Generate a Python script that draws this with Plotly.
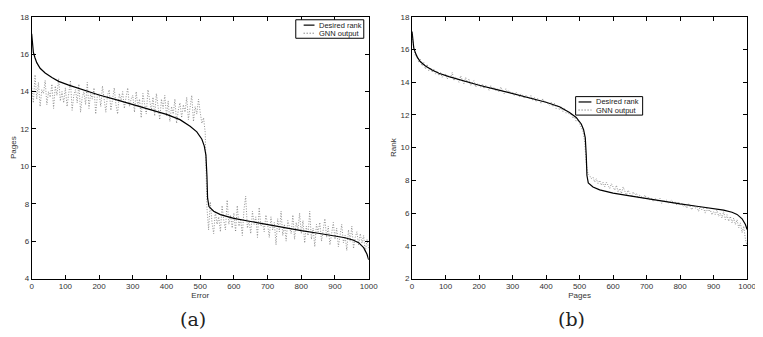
import plotly.graph_objects as go

# ---------------- data ----------------
desired_x = [0, 2, 5, 10, 15, 25, 40, 60, 80, 110, 150, 200, 250, 300, 350, 400, 440, 470, 490, 505,
             512, 517, 520, 522, 526, 540, 560, 600, 650, 700, 750, 800, 850, 900, 930, 955, 970, 985, 995, 1000]
desired_y = [17.1, 16.6, 16.1, 15.8, 15.55, 15.25, 15.0, 14.75, 14.55, 14.35, 14.1, 13.82, 13.57, 13.32, 13.06,
             12.78, 12.5, 12.15, 11.85, 11.45, 11.1, 10.6, 9.5, 8.3, 7.85, 7.6, 7.42, 7.22, 7.05, 6.88, 6.72,
             6.56, 6.42, 6.28, 6.18, 6.05, 5.92, 5.65, 5.3, 5.0]

gnn_x = list(range(0, 1001, 5))

gnn_a = [
    14.2, 13.4, 14.9, 13.6, 14.5, 13.2, 14.1, 13.9, 14.6, 13.3, 14.0, 13.7, 14.4, 13.1, 14.3, 13.8, 14.7, 13.5, 14.0, 13.4,
    14.2, 13.2, 13.9, 14.6, 13.0, 13.8, 14.1, 13.4, 14.4, 12.9, 13.7, 14.0, 13.3, 14.5, 13.1, 13.9, 13.6, 14.2, 12.8, 13.8,
    13.9, 13.2, 14.3, 13.4, 12.9, 13.8, 14.1, 13.0, 13.6, 14.2, 13.3, 12.8, 13.9, 13.5, 14.0, 13.1, 13.7, 14.2, 13.2, 13.6,
    13.8, 12.9, 14.0, 13.2, 13.6, 12.6, 13.9, 13.3, 12.8, 14.1, 13.4, 13.0, 13.7, 12.7, 13.9, 13.2, 12.5, 13.6, 13.1, 13.8,
    12.7, 13.5, 12.4, 13.2, 12.8, 13.6, 12.3, 13.0, 13.4, 12.6, 13.3, 12.9, 13.7, 12.5, 13.1, 13.8, 12.4, 13.2, 12.8, 13.6,
    12.9, 12.3, 12.6, 11.8,
    7.8, 6.6, 8.1, 7.0, 6.4, 7.6, 6.9, 7.3, 6.5, 7.9, 7.1, 6.6, 8.2, 6.9, 7.4, 6.7,
    7.5, 6.5, 7.9, 6.8, 7.2, 6.3, 7.7, 8.4, 6.7, 7.1, 6.4, 7.6, 6.9, 7.3, 6.2, 7.8, 6.8, 7.0, 6.5, 7.4,
    6.9, 6.2, 7.3, 6.6, 7.0, 5.8, 7.2, 6.5, 7.6, 6.3, 6.9, 6.0, 7.1, 6.7, 6.4, 7.4, 6.1, 7.0, 6.6, 7.5,
    6.4, 7.1, 5.9, 6.8, 6.3, 7.6, 6.1, 6.7, 5.7, 6.9, 6.5, 7.0, 6.0, 6.6, 7.2, 6.2, 6.8, 5.8, 6.5, 7.0,
    6.1, 6.7, 5.7, 6.4, 6.9, 5.9, 6.3, 5.5, 6.6, 6.0, 6.8, 5.6, 6.2, 6.5, 5.8, 6.4, 5.9, 6.3, 5.4, 6.1,
    5.6,
]

gnn_b = [
    16.8, 16.3, 15.6, 15.7, 15.2, 15.4, 15.0, 15.2, 14.8, 15.1, 14.7, 14.9, 14.6, 14.8, 14.5, 14.7, 14.4, 14.6, 14.3, 14.5,
    14.5, 14.2, 14.4, 14.3, 14.6, 14.1, 14.3, 14.2, 14.0, 14.4, 14.1, 13.9, 14.3, 14.0, 14.2, 13.8, 14.0, 14.1, 13.7, 13.9,
    13.9, 13.7, 13.9, 13.6, 13.8, 13.7, 13.5, 13.8, 13.6, 13.7, 13.5, 13.6, 13.4, 13.7, 13.5, 13.3, 13.6, 13.4, 13.5, 13.3,
    13.4, 13.2, 13.4, 13.3, 13.1, 13.3, 13.2, 13.0, 13.2, 13.1, 13.0, 13.2, 12.9, 13.1, 12.8, 13.0, 12.9, 12.7, 13.0, 12.8,
    12.8, 12.7, 12.6, 12.8, 12.5, 12.7, 12.4, 12.6, 12.3, 12.5, 12.2, 12.4, 12.1, 12.2, 12.0, 12.1, 11.8, 11.9, 11.6, 11.7,
    11.5, 11.2, 11.0, 10.4,
    9.0, 8.4, 8.3, 8.1, 8.2, 7.9, 8.1, 7.8, 8.0, 7.7, 7.9, 7.6, 7.9, 7.7, 7.5, 7.8,
    7.6, 7.4, 7.7, 7.3, 7.5, 7.2, 7.6, 7.3, 7.1, 7.4, 7.2, 7.0, 7.3, 7.1, 7.2, 6.9, 7.1, 7.0, 6.9, 7.1,
    6.9, 7.0, 6.8, 6.9, 6.7, 6.9, 6.8, 6.7, 6.9, 6.6, 6.8, 6.7, 6.8, 6.6, 6.7, 6.8, 6.6, 6.7, 6.5, 6.7,
    6.5, 6.6, 6.4, 6.5, 6.3, 6.6, 6.4, 6.2, 6.5, 6.3, 6.4, 6.1, 6.4, 6.2, 6.3, 6.0, 6.3, 6.1, 6.2, 5.9,
    6.1, 5.9, 6.2, 5.8, 6.0, 5.7, 6.1, 5.6, 5.9, 5.5, 5.8, 5.4, 5.7, 5.3, 5.6, 5.1, 5.4, 4.8, 5.2, 4.4,
    4.0,
]

x_ticks = [0, 100, 200, 300, 400, 500, 600, 700, 800, 900, 1000]
ya_ticks = [4, 6, 8, 10, 12, 14, 16, 18]
yb_ticks = [2, 4, 6, 8, 10, 12, 14, 16, 18]
legend_labels = ["Desired rank", "GNN output"]

# ---------------- figure ----------------
# The page body has an 8px default margin, so the figure is sized to fill the rest of the window
OFF = 8
W, H = 763 - OFF, 337 - OFF
fig = go.Figure()

def px(x):
    return (x - OFF) / W

def py(y):
    return 1 - (y - OFF) / H

gnn_style = dict(color="#767676", width=0.8, dash="1px,1.6px")
des_style = dict(color="black", width=1.2)

fig.add_trace(go.Scatter(x=gnn_x, y=gnn_a, mode="lines", line=gnn_style, name=legend_labels[1],
                         xaxis="x", yaxis="y"))
fig.add_trace(go.Scatter(x=desired_x, y=desired_y, mode="lines", line=des_style, name=legend_labels[0],
                         xaxis="x", yaxis="y"))
fig.add_trace(go.Scatter(x=gnn_x, y=gnn_b, mode="lines", line=gnn_style, name=legend_labels[1],
                         xaxis="x2", yaxis="y2"))
fig.add_trace(go.Scatter(x=desired_x, y=desired_y, mode="lines", line=des_style, name=legend_labels[0],
                         xaxis="x2", yaxis="y2"))

SANS = "Liberation Sans, Arial, Helvetica, sans-serif"
tick_font = dict(family=SANS, size=8, color="#333333")
title_font = dict(family=SANS, size=8, color="#333333")

def ax(domain, rng, ticks, title, anchor):
    return dict(domain=domain, range=rng, tickvals=ticks, ticktext=[str(t) for t in ticks],
                showline=True, linecolor="black", linewidth=1, mirror="ticks",
                ticks="inside", ticklen=4, tickcolor="black", tickwidth=1,
                showgrid=False, zeroline=False, tickfont=tick_font,
                title=dict(text=title, font=title_font, standoff=2), anchor=anchor)

ydom = [py(282), py(13)]
fig.update_layout(
    width=W, height=H,
    margin=dict(l=0, r=0, t=0, b=0),
    paper_bgcolor="white", plot_bgcolor="white",
    font=dict(family=SANS),
    xaxis=ax([px(30), px(372)], [0, 1000], x_ticks, "Error", "y"),
    yaxis=ax(ydom, [4, 18], ya_ticks, "Pages", "x"),
    xaxis2=ax([px(416), px(756)], [0, 1000], x_ticks, "Pages", "y2"),
    yaxis2=ax(ydom, [2, 18], yb_ticks, "Rank", "x2"),
    showlegend=False,
)

# compact legends (box, line samples, labels) in paper coordinates
def add_legend(x0, y0, x1, y1, lx0, lx1, tx, rows):
    fig.add_shape(type="rect", xref="paper", yref="paper", x0=px(x0), x1=px(x1), y0=py(y0), y1=py(y1),
                  line=dict(color="black", width=1), fillcolor="white", layer="above")
    styles = [dict(color="black", width=1.2), dict(color="#555555", width=1, dash="1px,2px")]
    for yy, st, lab in zip(rows, styles, legend_labels):
        fig.add_shape(type="line", xref="paper", yref="paper", x0=px(lx0), x1=px(lx1), y0=py(yy), y1=py(yy),
                      line=st, layer="above")
        fig.add_annotation(text=lab, x=px(tx), y=py(yy), xref="paper", yref="paper", showarrow=False,
                           xanchor="left", yanchor="middle", font=dict(family=SANS, size=7.5, color="#222"))

add_legend(298, 16, 367, 35, 306, 317, 320, [21.5, 29.8])
add_legend(582, 95, 650, 114, 585, 598, 601, [100.5, 108.8])

cap_font = dict(family="DejaVu Serif, Liberation Serif, serif", size=19, color="#222")
fig.add_annotation(text="(a)", x=px(194), y=py(324), xref="paper", yref="paper",
                   showarrow=False, font=cap_font, xanchor="center", yanchor="middle")
fig.add_annotation(text="(b)", x=px(578), y=py(324), xref="paper", yref="paper",
                   showarrow=False, font=cap_font, xanchor="center", yanchor="middle")

fig.write_html("out.html")
